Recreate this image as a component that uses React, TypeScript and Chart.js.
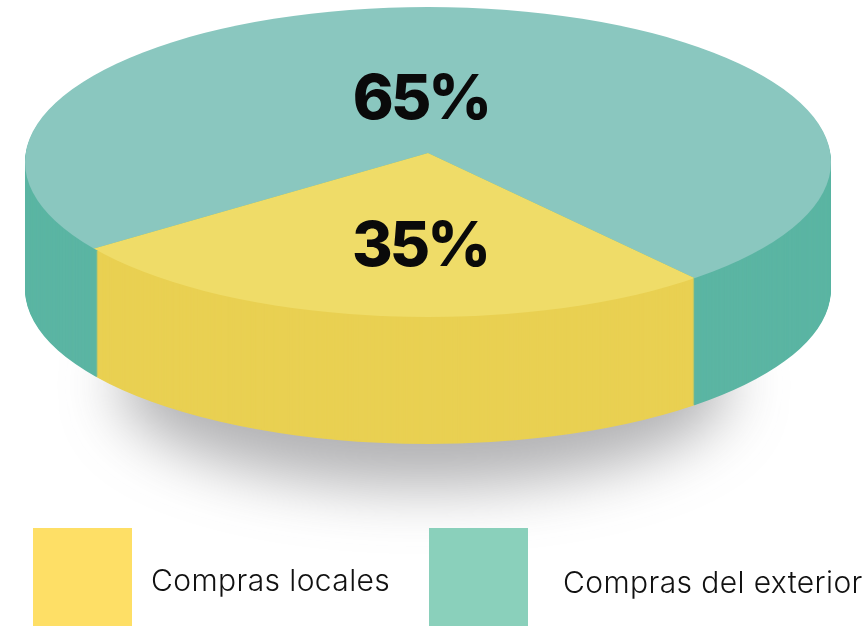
import React, { useEffect, useRef } from "react";
import { Chart, registerables } from "chart.js";

Chart.register(...registerables);

const categories = ["Compras locales", "Compras del exterior"];
const shares = [35, 65];
const topColors = ["#efdc68", "#8ac7bf"];
const sideColors = ["#e9d052", "#5bb5a3"];
const legendColors = ["#fedf66", "#8ad0bb"];

const CX = 428;
const CY = 162;
const RX = 403;
const RY = 155;
const DEPTH = 127;
const APEX_DY = -9;
const RIM_SWEEP_SCALE = 96.8 / 126;
const TOP_SWEEP_SCALE = 92.7 / 126;

const labelPos = [
  { x: 420, y: 266 },
  { x: 421, y: 119 },
];
const legendLayout = [
  { box: 33, text: 151, base: 592 },
  { box: 429, text: 563, base: 594 },
];

function drawWith(ctx: any, el: any, props: any, color: string) {
  const saved: any = {
    x: el.x,
    y: el.y,
    startAngle: el.startAngle,
    endAngle: el.endAngle,
    circumference: el.circumference,
    outerRadius: el.outerRadius,
    options: el.options,
  };
  Object.assign(el, props, { options: { ...el.options, backgroundColor: color, borderWidth: 0 } });
  el.draw(ctx);
  Object.assign(el, saved);
}

const pie3d = {
  id: "pie3d",
  beforeDatasetsDraw(chart: any) {
    const ctx = chart.ctx;
    const [yellow, green] = chart.getDatasetMeta(0).data as any[];
    const mid = (yellow.startAngle + yellow.endAngle) / 2;
    const sweep = yellow.endAngle - yellow.startAngle;

    const angles = (scale: number) => {
      const s = mid - (sweep * scale) / 2;
      const e = mid + (sweep * scale) / 2;
      return [
        { startAngle: s, endAngle: e, circumference: e - s },
        { startAngle: e, endAngle: s + Math.PI * 2, circumference: Math.PI * 2 - (e - s) },
      ];
    };

    // ground shadow
    ctx.save();
    ctx.filter = "blur(30px)";
    ctx.fillStyle = "rgba(80,80,85,0.44)";
    ctx.beginPath();
    ctx.ellipse(CX - 4, 385, 305, 102, 0, 0, Math.PI * 2);
    ctx.fill();
    ctx.restore();

    // extruded side
    const rim = angles(RIM_SWEEP_SCALE);
    for (let d = DEPTH; d >= 1; d--) {
      ctx.save();
      ctx.translate(CX, CY + d);
      ctx.scale(1, RY / RX);
      drawWith(ctx, green, { x: 0, y: 0, outerRadius: RX, ...rim[1] }, sideColors[1]);
      drawWith(ctx, yellow, { x: 0, y: 0, outerRadius: RX, ...rim[0] }, sideColors[0]);
      ctx.restore();
    }

    // top face: wedge meets at an off-centre apex, clipped to the disc
    const top = angles(TOP_SWEEP_SCALE);
    ctx.save();
    ctx.beginPath();
    ctx.ellipse(CX, CY, RX, RY, 0, 0, Math.PI * 2);
    ctx.clip();
    ctx.translate(CX, CY);
    ctx.scale(1, RY / RX);
    const apexY = (APEX_DY * RX) / RY;
    drawWith(ctx, green, { x: 0, y: apexY, outerRadius: RX * 1.4, ...top[1] }, topColors[1]);
    drawWith(ctx, yellow, { x: 0, y: apexY, outerRadius: RX * 1.4, ...top[0] }, topColors[0]);
    ctx.restore();
    return false;
  },
  afterDraw(chart: any) {
    const ctx = chart.ctx;
    ctx.save();
    ctx.fillStyle = "#0a0a0a";
    ctx.font = "800 62px Inter";
    ctx.letterSpacing = "-3px";
    ctx.textAlign = "center";
    ctx.textBaseline = "alphabetic";
    shares.forEach((v, i) => ctx.fillText(`${v}%`, labelPos[i].x, labelPos[i].y));
    ctx.restore();
  },
};

export default function App() {
  const ref = useRef<HTMLCanvasElement>(null);
  useEffect(() => {
    document.body.style.margin = "0";
    document.body.style.overflow = "hidden";
    const chart = new Chart(ref.current as any, {
      type: "pie",
      data: {
        labels: categories,
        datasets: [{ data: shares, backgroundColor: topColors, borderWidth: 0 }],
      },
      options: {
        responsive: false,
        animation: false,
        rotation: 124,
        plugins: { legend: { display: false }, tooltip: { enabled: false } },
      },
      plugins: [pie3d as any],
    });
    return () => chart.destroy();
  }, []);
  return (
    <div style={{ position: "relative", width: 863, height: 626, background: "#fff", overflow: "hidden" }}>
      <canvas ref={ref} width={863} height={626} style={{ display: "block", position: "absolute", left: 0, top: 0 }} />
      {categories.map((c, i) => (
        <React.Fragment key={c}>
          <div
            style={{
              position: "absolute",
              left: legendLayout[i].box,
              top: 528,
              width: 99,
              height: 98,
              background: legendColors[i],
            }}
          />
          <div
            style={{
              position: "absolute",
              left: legendLayout[i].text,
              top: legendLayout[i].base - 30,
              lineHeight: "36px",
              fontFamily: "Inter",
              fontWeight: 300,
              fontSize: 30,
              letterSpacing: 0.4,
              whiteSpace: "nowrap",
              color: "#111",
            }}
          >
            {c}
          </div>
        </React.Fragment>
      ))}
    </div>
  );
}
